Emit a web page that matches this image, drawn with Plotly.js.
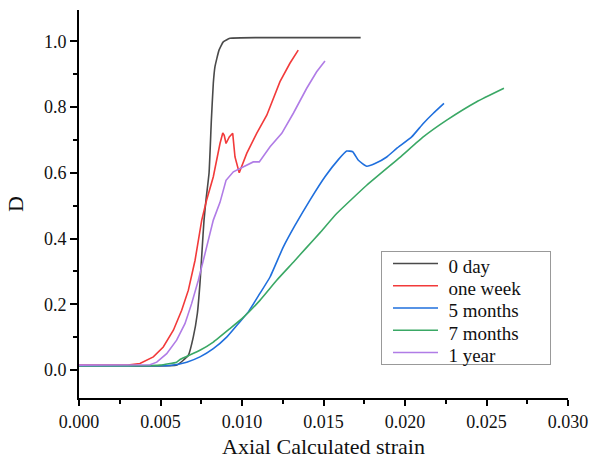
<!DOCTYPE html>
<html>
<head>
<meta charset="utf-8">
<script src="https://cdn.plot.ly/plotly-3.0.1.min.js"></script>
<style>html,body{margin:0;padding:0;background:#fff;}#chart{width:597px;height:459px;}</style>
</head>
<body>
<div id="chart"></div>
<script>
// 0 day
const x0day = [0, 0.003, 0.0060, 0.00671, 0.00701, 0.00726, 0.00742, 0.00755, 0.00767, 0.00779, 0.00798, 0.00812, 0.00824, 0.00834, 0.00859, 0.00885, 0.00926, 0.0111, 0.01728];
const y0day = [0.013, 0.013, 0.015, 0.045, 0.100, 0.172, 0.263, 0.364, 0.456, 0.517, 0.600, 0.760, 0.872, 0.922, 0.973, 0.998, 1.009, 1.011, 1.011];
// one week
const xWeek = [0, 0.003, 0.00374, 0.00456, 0.00517, 0.00579, 0.00630, 0.00671, 0.00712, 0.00753, 0.00783, 0.00824, 0.00865, 0.00882, 0.00891, 0.00902, 0.00922, 0.00943, 0.00957, 0.00971, 0.00983, 0.01029, 0.01090, 0.01152, 0.01192, 0.01233, 0.01294, 0.01345];
const yWeek = [0.015, 0.015, 0.020, 0.040, 0.070, 0.121, 0.182, 0.243, 0.334, 0.456, 0.517, 0.588, 0.689, 0.721, 0.714, 0.689, 0.709, 0.720, 0.648, 0.618, 0.600, 0.659, 0.720, 0.775, 0.826, 0.877, 0.933, 0.973];
// 5 months
const x5m = [0, 0.004, 0.00558, 0.00661, 0.00742, 0.00824, 0.00906, 0.00977, 0.01039, 0.01110, 0.01172, 0.01253, 0.01325, 0.01417, 0.01509, 0.01591, 0.01642, 0.01679, 0.01714, 0.01765, 0.01816, 0.01888, 0.01949, 0.02041, 0.02112, 0.02174, 0.02239];
const y5m = [0.013, 0.013, 0.014, 0.024, 0.040, 0.065, 0.100, 0.141, 0.177, 0.233, 0.283, 0.374, 0.440, 0.517, 0.588, 0.640, 0.666, 0.664, 0.638, 0.620, 0.628, 0.648, 0.674, 0.709, 0.750, 0.781, 0.811];
// 7 months
const x7m = [0, 0.004, 0.00497, 0.00599, 0.00620, 0.00742, 0.00824, 0.00926, 0.01008, 0.01110, 0.01213, 0.01315, 0.01397, 0.01479, 0.01581, 0.01765, 0.01969, 0.02112, 0.02256, 0.02440, 0.02607];
const y7m = [0.013, 0.013, 0.015, 0.024, 0.032, 0.060, 0.085, 0.126, 0.160, 0.212, 0.273, 0.328, 0.373, 0.418, 0.476, 0.562, 0.647, 0.709, 0.760, 0.816, 0.857];
// 1 year
const x1y = [0, 0.004, 0.00436, 0.00477, 0.00538, 0.00599, 0.00650, 0.00691, 0.00732, 0.00773, 0.00824, 0.00865, 0.00902, 0.00947, 0.00988, 0.01069, 0.01106, 0.01172, 0.01244, 0.01315, 0.01397, 0.01458, 0.01509];
const y1y = [0.015, 0.015, 0.016, 0.024, 0.050, 0.091, 0.141, 0.202, 0.273, 0.354, 0.456, 0.510, 0.577, 0.603, 0.613, 0.633, 0.633, 0.679, 0.720, 0.781, 0.857, 0.907, 0.940];

const names = ['0 day', 'one week', '5 months', '7 months', '1 year'];
const colors = ['#4a4a4a', '#f23a3a', '#1f6fdd', '#3aa865', '#b07ce6'];
const xs = [x0day, xWeek, x5m, x7m, x1y];
const ys = [y0day, yWeek, y5m, y7m, y1y];
const shapes = ['spline', 'linear', 'spline', 'spline', 'linear'];

const data = names.map((n, i) => ({
  type: 'scatter', mode: 'lines', name: n, x: xs[i], y: ys[i],
  line: {color: colors[i], width: 1.6, shape: shapes[i], smoothing: 0.4}
}));

const font = "'Liberation Serif', 'Times New Roman', serif";
const layout = {
  width: 597, height: 459,
  margin: {l: 79, r: 29, t: 10, b: 61},
  paper_bgcolor: '#fff', plot_bgcolor: '#fff',
  font: {family: font, color: '#111', size: 18},
  showlegend: true,
  legend: {x: 0.618, y: 0.379, xanchor: 'left', yanchor: 'top',
    bgcolor: '#fff', bordercolor: '#999', borderwidth: 1,
    font: {family: font, size: 19, color: '#111'}, itemwidth: 44, tracegroupgap: 0},
  xaxis: {range: [0, 0.030], dtick: 0.005, tick0: 0, tickformat: '.3f',
    showgrid: false, zeroline: false, showline: true, linecolor: '#000', linewidth: 2,
    ticks: 'outside', ticklen: 6, tickwidth: 2, tickcolor: '#000',
    tickfont: {family: font, size: 18},
    minor: {dtick: 0.0025, ticklen: 4, tickwidth: 2, tickcolor: '#000', showgrid: false, ticks: 'outside'},
    title: {text: 'Axial Calculated strain', font: {family: font, size: 22}, standoff: 11}},
  yaxis: {range: [-0.085, 1.095], dtick: 0.2, tick0: 0, tickformat: '.1f',
    showgrid: false, zeroline: false, showline: true, linecolor: '#000', linewidth: 2,
    ticks: 'outside', ticklen: 7, tickwidth: 2, tickcolor: '#000',
    tickfont: {family: font, size: 18},
    minor: {dtick: 0.1, ticklen: 4, tickwidth: 2, tickcolor: '#000', showgrid: false, ticks: 'outside'},
    title: {text: 'D', font: {family: font, size: 22}, standoff: 14}}
};

Plotly.newPlot('chart', data, layout, {displayModeBar: false, staticPlot: true}).then(gd => {
  // adjust legend geometry (row spacing, line length, box size) to match the reference
  const bg = gd.querySelector('.legend rect.bg');
  if (!bg) return;
  const sb = gd.querySelector('.legend .scrollbox');
  if (sb) sb.removeAttribute('clip-path');
  const items = gd.querySelectorAll('.legend .traces');
  const step = 22.25, firstRow = 12, lineLeft = 11.3, lineLen = 45, textLeft = 66.7;
  const bgRect = bg.getBoundingClientRect();
  items.forEach((el, i) => {
    const m = /translate\(([-\d.]+),\s*([-\d.]+)\)/.exec(el.getAttribute('transform') || '');
    const path = el.querySelector('.legendlines path');
    if (!m || !path) return;
    const pr = path.getBoundingClientRect();
    const curY = (pr.top + pr.bottom) / 2 - bgRect.top;
    const ty = parseFloat(m[2]) + (firstRow + i * step - curY);
    el.setAttribute('transform', 'translate(' + m[1] + ',' + ty + ')');
    const dm = /M([-\d.]+),([-\d.]+)h([-\d.]+)/.exec(path.getAttribute('d') || '');
    if (dm) {
      const curX = pr.left - bgRect.left;
      const nx = parseFloat(dm[1]) + (lineLeft - curX);
      path.setAttribute('d', 'M' + nx + ',' + dm[2] + 'h' + lineLen);
    }
    const txt = el.querySelector('text.legendtext');
    if (txt) {
      const tr = txt.getBoundingClientRect();
      const curT = tr.left - bgRect.left;
      txt.setAttribute('x', String(parseFloat(txt.getAttribute('x') || 0) + (textLeft - curT)));
      txt.setAttribute('y', String(parseFloat(txt.getAttribute('y') || 0) + 2));
    }
  });
  bg.setAttribute('width', '169');
  bg.setAttribute('height', '113.5');
});
</script>
</body>
</html>
